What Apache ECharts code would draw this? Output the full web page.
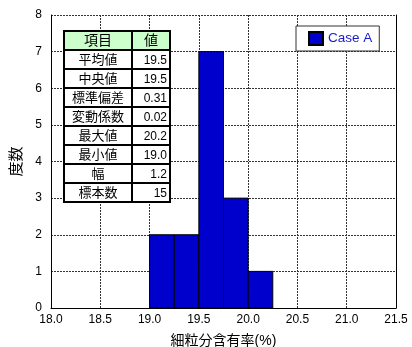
<!DOCTYPE html>
<html><head><meta charset="utf-8">
<script src="https://cdn.jsdelivr.net/npm/echarts@6/dist/echarts.min.js"></script>
<style>html,body{margin:0;padding:0;background:#fff}#c{width:412px;height:347px}</style>
</head><body><div id="c"></div>
<script>
const binStarts = [19.0, 19.25, 19.5, 19.75, 20.0];
const binWidth = 0.25;
const counts = [2, 2, 7, 3, 1];
const seriesName = 'Case A';
const statLabels = ['平均値','中央値','標準偏差','変動係数','最大値','最小値','幅','標本数'];
const statValues = ['19.5','19.5','0.31','0.02','20.2','19.0','1.2','15'];
const tableHeader = ['項目','値'];
const xTicks = {min: 18.0, max: 21.5, interval: 0.5};
const yTicks = {min: 0, max: 8, interval: 1};

const FONT = '"Liberation Sans", "Noto Sans CJK JP", sans-serif';
const chart = echarts.init(document.getElementById('c'), null, {renderer: 'canvas'});

const tx = 64, tw1 = 68, tw2 = 38, ty = 31, rh = 19;
const g = [];
const rows = [tableHeader].concat(statLabels.map((l,i)=>[l, statValues[i]]));
rows.forEach((r, i) => {
  const y = ty + i*rh;
  g.push({type:'rect', shape:{x:tx, y:y, width:tw1, height:rh}, style:{fill: i===0?'#ccffcc':'#fff', stroke:'#000', lineWidth:2}, z:10});
  g.push({type:'rect', shape:{x:tx+tw1, y:y, width:tw2, height:rh}, style:{fill: i===0?'#ccffcc':'#fff', stroke:'#000', lineWidth:2}, z:10});
  g.push({type:'text', x: tx+tw1/2, y: y+rh/2+1, style:{text:r[0], font: (i===0?'14px ':'13px ')+FONT, fill:'#000', align:'center', verticalAlign:'middle'}, z:11});
  g.push({type:'text', x: i===0 ? tx+tw1+tw2/2 : tx+tw1+tw2-3, y: y+rh/2+1, style:{text:r[1], font: (i===0?'14px ':'12px ')+FONT, fill:'#000', align: i===0?'center':'right', verticalAlign:'middle'}, z:11});
});

const gridLine = {show: true, lineStyle: {color: '#333', type: [2, 1], width: 1, opacity: 1}};

chart.setOption({
  animation: false,
  textStyle: {fontFamily: FONT},
  grid: {left: 51, right: 16, top: 15, bottom: 39, containLabel: false, outerBoundsMode: 'none'},
  legend: {
    data: [seriesName], left: 296, top: 26, orient: 'vertical',
    itemWidth: 14, itemHeight: 13, itemGap: 0,
    padding: [5, 7, 5, 12], borderColor: '#333', borderWidth: 1, backgroundColor: '#fff',
    textStyle: {color: '#1a1ad0', fontSize: 13.5, fontFamily: FONT},
    icon: 'rect'
  },
  xAxis: [{
    type: 'value', min: xTicks.min, max: xTicks.max, interval: xTicks.interval,
    name: '細粒分含有率(%)', nameLocation: 'middle', nameGap: 26,
    nameTextStyle: {fontSize: 14, color: '#000', fontFamily: FONT},
    axisLabel: {formatter: v => v.toFixed(1), color: '#000', fontSize: 12, margin: 6},
    axisLine: {lineStyle: {color: '#000', width: 1}},
    axisTick: {show: false},
    splitLine: gridLine
  }],
  yAxis: [{
    type: 'value', min: yTicks.min, max: yTicks.max, interval: yTicks.interval,
    name: '度数', nameLocation: 'middle', nameGap: 23, nameRotate: 90,
    nameTextStyle: {fontSize: 15, color: '#000', fontFamily: FONT},
    axisLabel: {color: '#000', fontSize: 12, margin: 9},
    axisLine: {show: true, lineStyle: {color: '#000', width: 1}},
    axisTick: {show: false},
    splitLine: gridLine
  }, {
    type: 'value', min: yTicks.min, max: yTicks.max, interval: yTicks.interval, position: 'right',
    axisLabel: {show: false}, axisTick: {show: false}, splitLine: {show: false},
    axisLine: {show: true, lineStyle: {color: '#000', width: 1}}
  }],
  series: [{
    name: seriesName, type: 'custom',
    data: binStarts.map((s, i) => [s, s + binWidth, counts[i]]),
    itemStyle: {color: '#0000cc', borderColor: '#000', borderWidth: 1},
    encode: {x: [0, 1], y: 2},
    z: 5,
    renderItem: function (params, api) {
      const p0 = api.coord([api.value(0), api.value(2)]);
      const p1 = api.coord([api.value(1), 0]);
      return {type: 'rect', shape: {x: p0[0], y: p0[1], width: p1[0]-p0[0], height: p1[1]-p0[1]},
        style: {fill: '#0000cc', stroke: '#000', lineWidth: 1}};
    }
  }],
  graphic: g
});
</script></body></html>
